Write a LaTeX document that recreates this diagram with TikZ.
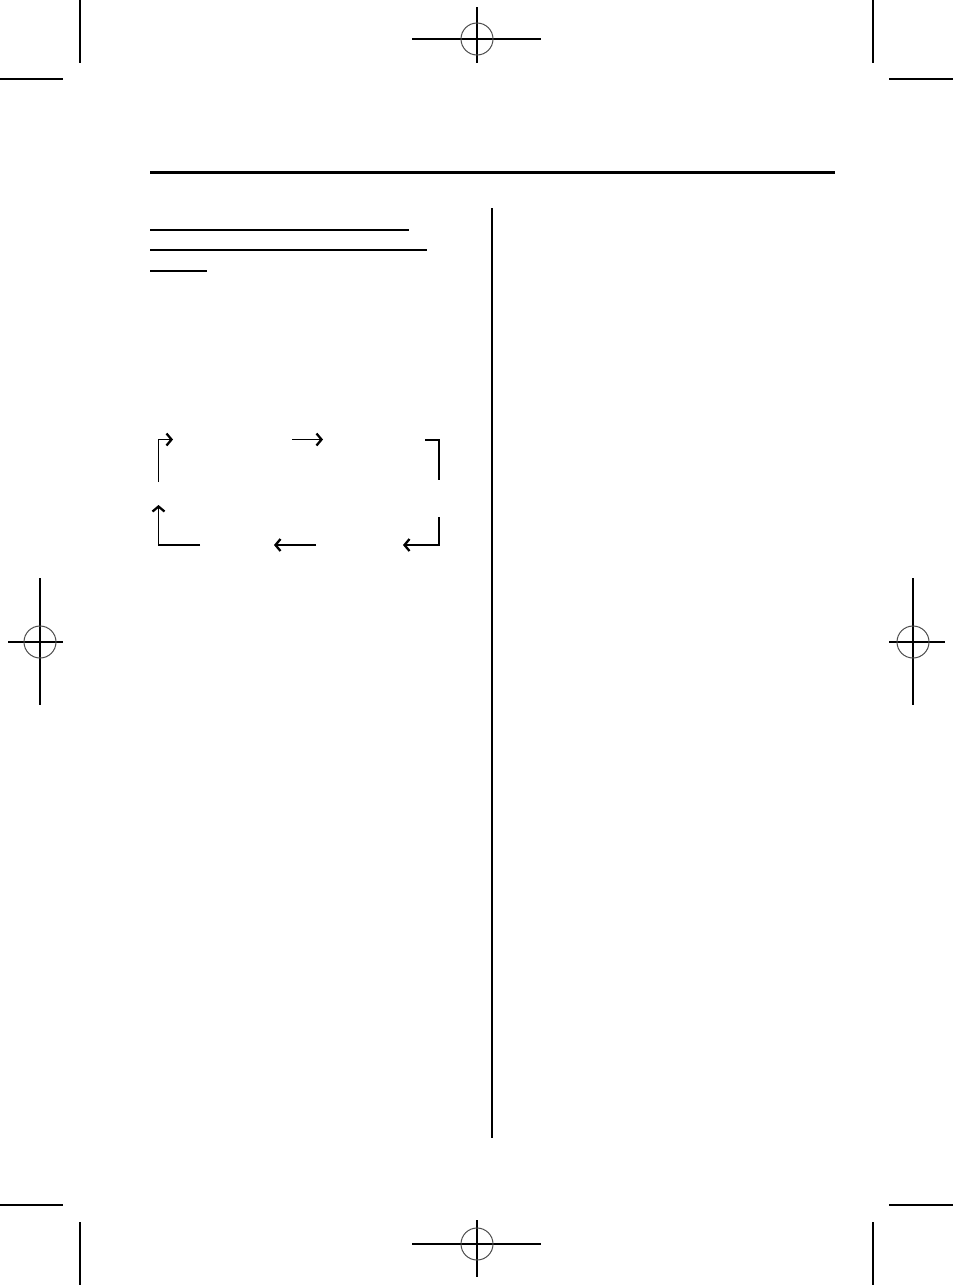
\documentclass[tikz,border=0pt]{standalone}
\usetikzlibrary{arrows.meta}
\begin{document}
\begin{tikzpicture}[x=1pt,y=-1pt,
  mark line/.style={line width=1.3pt,black},
  reg circle/.style={line width=1pt,black!70},
  rule thick/.style={line width=3pt},
  uline/.style={line width=2.2pt},
  colrule/.style={line width=1.2pt},
  flow/.style={line width=1.8pt},
  flowarrow/.style={line width=1.8pt,-{Straight Barb[length=5pt,width=12pt,line width=2.3pt]}}]
\useasboundingbox (0,0) rectangle (954,1285);
% corner crop marks
\draw[mark line] (80,0) -- (80,63);
\draw[mark line] (0,79) -- (63,79);
\draw[mark line] (873,0) -- (873,63);
\draw[mark line] (889,79) -- (953,79);
\draw[mark line] (80,1222) -- (80,1285);
\draw[mark line] (0,1205) -- (63,1205);
\draw[mark line] (873,1222) -- (873,1285);
\draw[mark line] (889,1205) -- (953,1205);
% registration marks
\draw[mark line] (412,39) -- (541,39);
\draw[mark line] (477,7) -- (477,63);
\draw[reg circle] (477,39) circle (16);
\draw[mark line] (412,1244) -- (541,1244);
\draw[mark line] (477,1220) -- (477,1277);
\draw[reg circle] (477,1244) circle (16);
\draw[mark line] (40,578) -- (40,705);
\draw[mark line] (8,642) -- (63,642);
\draw[reg circle] (40,642) circle (16);
\draw[mark line] (913,578) -- (913,705);
\draw[mark line] (889,642) -- (945,642);
\draw[reg circle] (913,642) circle (16);
% header rule
\draw[rule thick] (150,172) -- (835,172);
% column rule
\draw[colrule] (492,208) -- (492,1138);
% heading underlines
\draw[uline] (150,230) -- (409,230);
\draw[uline] (150,250) -- (427,250);
\draw[uline] (150,271) -- (207,271);
% flow arrows
\coordinate (a1) at (158.5,482);
\coordinate (a2) at (158.5,439.5);
\coordinate (a3) at (173,439.5);
\draw[flowarrow] (a1) -- (a2) -- (a3);
\coordinate (b1) at (292,439.5);
\coordinate (b2) at (323,439.5);
\draw[flowarrow] (b1) -- (b2);
\coordinate (c1) at (425,440);
\coordinate (c2) at (439,440);
\coordinate (c3) at (439,480);
\draw[flow] (c1) -- (c2) -- (c3);
\coordinate (d1) at (200,545);
\coordinate (d2) at (158.5,545);
\coordinate (d3) at (158.5,505);
\draw[flowarrow] (d1) -- (d2) -- (d3);
\coordinate (e1) at (316,545);
\coordinate (e2) at (274,545);
\draw[flowarrow] (e1) -- (e2);
\coordinate (f1) at (439,517);
\coordinate (f2) at (439,545);
\coordinate (f3) at (403,545);
\draw[flowarrow] (f1) -- (f2) -- (f3);
\end{tikzpicture}
\end{document}
